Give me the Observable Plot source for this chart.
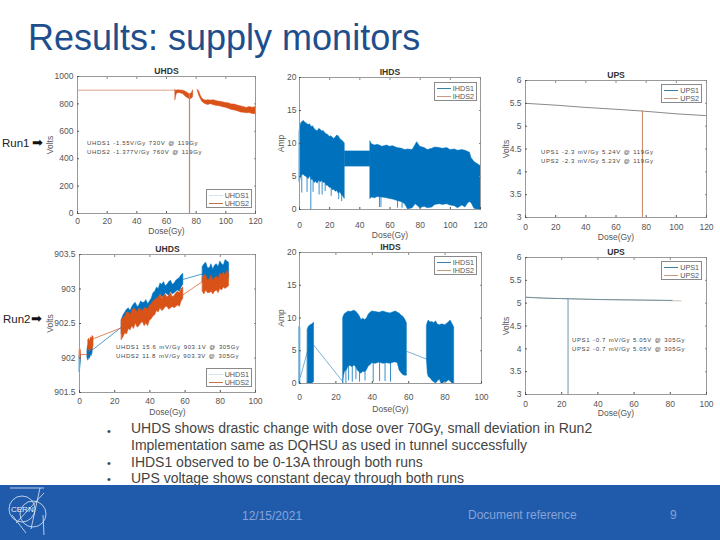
<!DOCTYPE html>
<html><head><meta charset="utf-8">
<script src="https://cdn.jsdelivr.net/npm/d3@7"></script>
<script src="https://cdn.jsdelivr.net/npm/@observablehq/plot@0.6"></script>
<style>
html,body{margin:0;padding:0;background:#fff}
#page{position:relative;width:720px;height:540px;overflow:hidden;font-family:"Liberation Sans",Arial,sans-serif}
.abs{position:absolute;white-space:nowrap}
.note{font-size:6px;letter-spacing:.62px;color:#444;line-height:9px;word-spacing:.6px}
.legend{position:absolute;background:#fff;border:1px solid #8a8a8a;box-sizing:border-box;font-size:7.2px;color:#555}
.legend div{position:absolute;left:2px;right:2px;height:9px;line-height:9px;text-align:right}
.legend i{position:absolute;left:0;top:4px;width:14px;height:1px}
.plot{position:absolute}
#footer{position:absolute;left:0;top:485px;width:720px;height:55px;background:#205bab}
.ftxt{color:#86a3d8;font-size:12px}
.bul{font-size:14px;color:#444}
</style></head>
<body><div id="page"></div>
<script>
// ---------- colours of the two series
const blue = "#0072bd", orange = "#d95319", tan = "#c49a84", grey = "#8a8a8a";

// ---------- Run 1 UHDS (Volts vs Dose)
const r1UhdsFlatDose = [0, 66];
const r1UhdsFlatV = [900, 900];
const r1UhdsDoseA = [66, 66.6, 67, 68, 69, 70, 71, 72, 73, 74, 75, 76, 77, 78];
const r1UhdsLowA = [828, 860, 872, 880, 878, 876, 872, 864, 852, 845, 838, 832, 838, 850];
const r1UhdsHighA = [900, 895, 898, 900, 898, 898, 896, 894, 888, 882, 874, 870, 878, 900];
const r1UhdsDoseB = [81, 82, 83, 84, 85, 86, 87, 88, 90, 92, 94, 96, 98, 100, 102, 104, 106, 108, 110, 112, 114, 116, 118, 120];
const r1UhdsLowB = [900, 862, 838, 818, 806, 800, 795, 792, 798, 790, 785, 783, 776, 772, 764, 756, 752, 746, 738, 736, 732, 733, 727, 725];
const r1UhdsHighB = [902, 892, 862, 842, 830, 826, 824, 826, 824, 826, 820, 816, 812, 806, 804, 796, 796, 788, 782, 778, 770, 778, 772, 776];
const r1UhdsDropDose = [75.5];
const r1UhdsDropTop = [870];

// ---------- Run 1 IHDS (Amp vs Dose)
const r1IhdsDoseA = [0, 0.5, 1, 2, 3, 4, 5, 6, 7, 8, 9, 10, 11, 12, 13, 14, 15, 16, 17, 18, 19, 20, 21, 22, 23, 24, 25, 26, 27, 28, 29, 30];
const r1IhdsHighA = [11.8, 12.4, 13.0, 13.3, 13.4, 13.1, 13.0, 12.8, 12.9, 12.5, 12.6, 12.2, 12.0, 11.8, 12.2, 12.1, 11.8, 11.9, 11.6, 11.4, 11.3, 11.0, 11.1, 10.9, 10.7, 10.9, 11.2, 11.1, 10.7, 10.5, 10.3, 10.0];
const r1IhdsLowA = [4.2, 4.4, 4.9, 5.3, 5.2, 5.0, 4.9, 4.6, 5.0, 4.5, 4.5, 4.0, 4.2, 3.9, 4.4, 4.1, 4.3, 4.0, 4.1, 3.6, 3.6, 3.3, 3.3, 2.9, 3.0, 2.7, 2.8, 2.4, 2.6, 2.2, 2.0, 1.6];
const r1IhdsDoseB = [30, 47];
const r1IhdsHighB = [8.8, 8.8];
const r1IhdsLowB = [6.5, 6.5];
const r1IhdsDoseC = [47, 48, 50, 52, 55, 58, 60, 62, 65, 68, 70, 72, 75, 77, 78, 80, 83, 85, 88, 90, 93, 95, 98, 100, 103, 105, 108, 110, 112, 113, 114, 116, 118, 120];
const r1IhdsHighC = [10.3, 9.9, 9.7, 9.8, 9.5, 9.7, 9.5, 9.6, 9.3, 9.2, 9.0, 9.1, 9.0, 9.8, 10.2, 9.5, 9.3, 9.0, 9.2, 9.4, 9.3, 9.2, 9.3, 9.0, 9.1, 8.9, 9.0, 8.9, 8.7, 8.6, 7.8, 7.2, 6.9, 6.6];
const r1IhdsLowC = [1.6, 1.8, 1.7, 1.9, 1.8, 1.7, 1.6, 1.5, 1.3, 1.1, 0.8, 0.0, 0.2, 0.8, 0.6, 0.2, 0.4, 0.2, 0.3, 0.7, 0.8, 0.7, 0.8, 0.6, 0.5, 0.2, 0.6, 0.3, 1.0, 1.1, 1.0, 0.1, 0.0, 0.0];
const r1IhdsSpikeDose = [1.5, 5, 7.5, 9, 13, 15, 17, 21, 26, 28, 53, 54, 65, 68];
const r1IhdsSpikeLow = [2.5, 2.6, 0, 2.6, 2.2, 2.2, 2.7, 2.0, 1.5, 1.2, 0.3, 0.3, 0.2, 0.2];

// ---------- Run 1 UPS (Volts vs Dose)
const r1UpsDose = [0, 20, 40, 60, 78, 100, 120];
const r1UpsV = [5.5, 5.46, 5.41, 5.37, 5.33, 5.27, 5.23];
const r1UpsDropDose = [77.5];
const r1UpsDropTop = [5.33];

// ---------- Run 2 UHDS (Volts vs Dose)
const r2UhdsDose1A = [0, 0.4, 0.8];
const r2UhdsLow1A = [901.8, 901.84, 901.95];
const r2UhdsHigh1A = [902.02, 902.08, 902.04];
const r2UhdsDose1B = [4.5, 5, 5.5, 6, 6.5, 7, 7.5];
const r2UhdsLow1B = [902.0, 901.96, 902.0, 901.99, 902.04, 902.03, 902.08];
const r2UhdsHigh1B = [902.12, 902.18, 902.16, 902.2, 902.18, 902.22, 902.2];
const r2UhdsDose1C = [24, 25, 26, 27, 28, 29, 30, 31, 32, 33, 34, 35, 36, 37, 38, 39, 40, 41, 42, 43, 44, 45, 46, 47, 48, 49, 50, 51, 52, 53, 54, 55, 56, 57, 58, 59];
const r2UhdsLow1C = [902.35, 902.4, 902.42, 902.48, 902.5, 902.54, 902.52, 902.55, 902.58, 902.54, 902.56, 902.6, 902.6, 902.56, 902.58, 902.6, 902.66, 902.7, 902.75, 902.76, 902.82, 902.86, 902.92, 902.88, 902.88, 902.94, 902.92, 902.9, 902.96, 902.92, 902.94, 902.96, 902.98, 902.96, 903.02, 903.06];
const r2UhdsHigh1C = [902.55, 902.62, 902.66, 902.7, 902.72, 902.68, 902.74, 902.78, 902.8, 902.74, 902.76, 902.82, 902.8, 902.8, 902.84, 902.78, 902.82, 902.86, 902.94, 902.96, 903.02, 903.0, 903.08, 903.06, 903.1, 903.04, 903.06, 903.1, 903.12, 903.06, 903.08, 903.12, 903.14, 903.16, 903.2, 903.22];
const r2UhdsDose1D = [70, 71, 72, 73, 74, 75, 76, 77, 78, 79, 80, 81, 82, 83, 84, 85];
const r2UhdsLow1D = [903.1, 903.06, 903.12, 903.06, 903.08, 903.12, 903.1, 903.08, 903.14, 903.12, 903.18, 903.14, 903.17, 903.18, 903.15, 903.16];
const r2UhdsHigh1D = [903.32, 903.36, 903.38, 903.3, 903.3, 903.36, 903.28, 903.34, 903.36, 903.32, 903.4, 903.36, 903.34, 903.42, 903.4, 903.38];
const r2UhdsLinkDose1 = [[7.5, 24], [59, 70]];
const r2UhdsLinkV1 = [[902.12, 902.45], [903.14, 903.22]];

const r2UhdsDose2A = [0, 0.4, 0.8];
const r2UhdsLow2A = [902.0, 901.96, 902.02];
const r2UhdsHigh2A = [902.1, 902.14, 902.1];
const r2UhdsDose2B = [5, 5.5, 6, 6.5, 7, 7.5, 8];
const r2UhdsLow2B = [902.1, 902.12, 902.08, 902.12, 902.14, 902.12, 902.18];
const r2UhdsHigh2B = [902.26, 902.28, 902.24, 902.3, 902.28, 902.32, 902.3];
const r2UhdsDose2C = [24, 25, 26, 27, 28, 29, 30, 31, 32, 33, 34, 35, 36, 37, 38, 39, 40, 41, 42, 43, 44, 45, 46, 47, 48, 49, 50, 51, 52, 53, 54, 55, 56, 57, 58, 59];
const r2UhdsLow2C = [902.26, 902.3, 902.36, 902.34, 902.42, 902.4, 902.46, 902.42, 902.5, 902.44, 902.46, 902.5, 902.52, 902.46, 902.5, 902.46, 902.54, 902.56, 902.6, 902.62, 902.68, 902.66, 902.72, 902.68, 902.7, 902.74, 902.74, 902.7, 902.72, 902.74, 902.72, 902.74, 902.76, 902.74, 902.82, 902.86];
const r2UhdsHigh2C = [902.55, 902.58, 902.6, 902.66, 902.66, 902.62, 902.68, 902.72, 902.7, 902.66, 902.72, 902.7, 902.68, 902.72, 902.72, 902.7, 902.76, 902.78, 902.82, 902.84, 902.86, 902.88, 902.92, 902.86, 902.9, 902.92, 902.88, 902.9, 902.94, 902.88, 902.9, 902.94, 902.96, 902.94, 903.0, 903.02];
const r2UhdsDose2D = [70, 71, 72, 73, 74, 75, 76, 77, 78, 79, 80, 81, 82, 83, 84, 85];
const r2UhdsLow2D = [902.96, 902.92, 902.98, 902.94, 902.94, 902.96, 902.92, 902.96, 902.98, 902.94, 903.0, 902.98, 903.02, 903.0, 903.02, 903.04];
const r2UhdsHigh2D = [903.16, 903.2, 903.2, 903.12, 903.14, 903.2, 903.12, 903.16, 903.18, 903.14, 903.22, 903.2, 903.24, 903.2, 903.26, 903.22];
const r2UhdsLinkDose2 = [[0.8, 5], [8, 24], [59, 70]];
const r2UhdsLinkV2 = [[902.05, 902.05], [902.28, 902.44], [902.92, 903.11]];

// ---------- Run 2 IHDS (Amp vs Dose)
const r2IhdsDoseA = [0, 0.5];
const r2IhdsHighA = [8.6, 8.5];
const r2IhdsLowA = [0, 0];
const r2IhdsDoseB = [4.5, 5, 6, 7, 8];
const r2IhdsHighB = [8.2, 8.6, 8.9, 9.0, 9.3];
const r2IhdsLowB = [0, 0, 0, 0, 0.2];
const r2IhdsDoseC = [24, 24.5, 25, 26, 27, 28, 29, 30, 31, 32, 33, 34, 35, 36, 37, 38, 39, 40, 42, 44, 46, 48, 50, 52, 53, 54, 55, 56, 57, 58, 59];
const r2IhdsHighC = [10.0, 10.4, 10.6, 10.8, 11.0, 10.9, 11.0, 11.1, 11.0, 10.7, 10.3, 9.7, 9.9, 9.7, 9.9, 10.5, 10.8, 11.0, 10.9, 10.8, 11.0, 10.8, 10.7, 10.9, 11.0, 10.8, 10.7, 10.4, 10.2, 9.8, 9.2];
const r2IhdsLowC = [0.0, 1.2, 1.8, 2.0, 2.6, 2.7, 2.5, 2.7, 2.6, 2.0, 1.7, 1.5, 1.8, 1.7, 2.0, 2.6, 2.8, 3.1, 3.0, 3.2, 3.0, 3.1, 3.0, 3.2, 3.2, 3.1, 2.0, 1.6, 1.3, 1.2, 1.2];
const r2IhdsDoseD = [70, 70.5, 71, 72, 73, 74, 75, 76, 77, 78, 79, 80, 81, 82, 83, 84, 85];
const r2IhdsHighD = [8.8, 9.3, 9.6, 9.3, 9.4, 9.2, 9.5, 9.0, 8.9, 9.0, 9.0, 8.9, 9.1, 9.3, 9.6, 9.1, 8.6];
const r2IhdsLowD = [3.7, 1.5, 1.0, 0.8, 0.4, 0.2, 0.0, 0.3, 0.6, 0.0, 0.0, 0.3, 0.2, 0.5, 0.3, 0.0, 0.0];
const r2IhdsSpikeDose = [25.5, 27, 29, 31, 33, 36, 40.5, 44, 47, 50];
const r2IhdsSpikeLow = [0, 0.4, 0.2, 0.6, 0.2, 0.4, 0.2, 0.3, 0.3, 0.2];
const r2IhdsLinkDose = [[0.5, 4.5], [8, 24], [59, 70]];
const r2IhdsLinkA = [[1.0, 5.0], [5.8, 0.2], [4.9, 3.7]];

// ---------- Run 2 UPS (Volts vs Dose)
const r2UpsDose1 = [0, 5, 10, 20, 40, 60, 81];
const r2UpsV1 = [5.13, 5.12, 5.11, 5.10, 5.08, 5.07, 5.06];
const r2UpsDose2 = [0, 5, 10, 20, 40, 60, 86];
const r2UpsV2 = [5.13, 5.12, 5.11, 5.10, 5.08, 5.07, 5.05];
const r2UpsDropDose = [23.5];
const r2UpsDropTop = [5.1];

// ---------- scale ticks and axis settings
const doseTicks120 = [0, 20, 40, 60, 80, 100, 120];
const doseTicks100 = [0, 20, 40, 60, 80, 100];
const uhdsTicks1 = [0, 200, 400, 600, 800, 1000];
const uhdsTicks2 = [901.5, 902, 902.5, 903, 903.5];
const ihdsTicks = [0, 5, 10, 15, 20];
const upsTicks = [3, 3.5, 4, 4.5, 5, 5.5, 6];

// ---------- text
const slideTitle = "Results: supply monitors";
const bulletLines = [
  "UHDS shows drastic change with dose over 70Gy, small deviation in Run2",
  "Implementation same as DQHSU as used in tunnel successfully",
  "IHDS1 observed to be 0-13A through both runs",
  "UPS voltage shows constant decay through both runs"
];
const footerDate = "12/15/2021", footerRef = "Document reference", footerPage = "9";

// ---------- mark helpers
function band(xs, lo, hi, color) {
  const t = xs.map((x, i) => ({x, lo: lo[i], hi: hi[i]}));
  return Plot.areaY(t, {x: "x", y1: "lo", y2: "hi", fill: color, stroke: color, strokeWidth: 0.5});
}
function line(xs, ys, color, w = 1) {
  const t = xs.map((x, i) => ({x, y: ys[i]}));
  return Plot.line(t, {x: "x", y: "y", stroke: color, strokeWidth: w});
}
function links(xss, yss, color) {
  return xss.map((xs, i) => line(xs, yss[i], color, 0.7));
}
function spikes(xs, low, top, color, w = 1) {
  const t = xs.map((x, i) => ({x, lo: low[i], hi: top[i]}));
  return Plot.ruleX(t, {x: "x", y1: "lo", y2: "hi", stroke: color, strokeWidth: w});
}

const page = document.getElementById("page");
function chart(o) {
  const mL = 42, mR = 8, mT = 18, mB = 34;
  const w = o.r - o.l + mL + mR, h = o.b - o.t + mT + mB;
  const svg = Plot.plot({
    width: w, height: h, marginLeft: mL, marginRight: mR, marginTop: mT, marginBottom: mB,
    style: {background: "transparent", fontFamily: "Liberation Sans, Arial, sans-serif", color: "#555", overflow: "visible"},
    x: {domain: o.xd},
    y: {domain: o.yd},
    marks: [
      ...o.marks,
      Plot.frame({stroke: "#9a9a9a", strokeWidth: 1}),
      Plot.axisX({ticks: o.xt, anchor: "bottom", tickSize: -2, tickPadding: o.xPad, fontSize: 8.5, color: "#555", tickFormat: String,
        label: "Dose(Gy)", labelAnchor: "center", labelArrow: "none", labelOffset: o.xLab}),
      Plot.axisY({ticks: o.yt, anchor: "left", tickSize: -2, tickPadding: o.yPad, fontSize: 8.5, color: "#555", tickFormat: String,
        label: o.yl, labelAnchor: "center", labelArrow: "none", labelOffset: o.yLab}),
      Plot.axisX({ticks: o.xt, anchor: "top", tickSize: -2, tickFormat: () => "", label: null, color: "#888"}),
      Plot.axisY({ticks: o.yt, anchor: "right", tickSize: -2, tickFormat: () => "", label: null, color: "#888"}),
      Plot.text([o.title], {frameAnchor: "top", dy: -9, fontWeight: "bold", fontSize: 8.6, fill: "#333"})
    ]
  });
  svg.classList.add("plot");
  svg.style.left = (o.l - mL) + "px";
  svg.style.top = (o.t - mT) + "px";
  page.appendChild(svg);
}
function legend(l, t, r, b, name1, c1, name2, c2) {
  const d = document.createElement("div");
  d.className = "legend";
  d.style.cssText = `left:${l}px;top:${t}px;width:${r - l}px;height:${b - t}px`;
  d.innerHTML = `<div style="top:1px"><i style="background:${c1}"></i>${name1}</div>` +
                `<div style="top:9px"><i style="background:${c2}"></i>${name2}</div>`;
  page.appendChild(d);
}
function note(x, y, lines) {
  const d = document.createElement("div");
  d.className = "abs note";
  d.style.left = x + "px"; d.style.top = y + "px";
  d.innerHTML = lines.join("<br>");
  page.appendChild(d);
}
function label(x, y, s, cls, extra = "") {
  const d = document.createElement("div");
  d.className = "abs " + cls;
  d.style.cssText = `left:${x}px;top:${y}px;${extra}`;
  d.textContent = s;
  page.appendChild(d);
}

// ---------- six panels
chart({l: 77, t: 76, r: 255, b: 213, xd: [0, 120], yd: [0, 1000], xt: doseTicks120, yt: uhdsTicks1, yl: "Volts", title: "UHDS", xPad: 6, yPad: 6, xLab: 20, yLab: 31,
  marks: [
    line(r1UhdsFlatDose, r1UhdsFlatV, "#d9a58c", 1),
    band(r1UhdsDoseA, r1UhdsLowA, r1UhdsHighA, orange),
    band(r1UhdsDoseB, r1UhdsLowB, r1UhdsHighB, orange),
    spikes(r1UhdsDropDose, [0], r1UhdsDropTop, "#b98a72", 1.2)
  ]});
chart({l: 299, t: 77, r: 480, b: 209, xd: [0, 120], yd: [0, 20], xt: doseTicks120, yt: ihdsTicks, yl: "Amp", title: "IHDS", xPad: 14, yPad: 5, xLab: 28, yLab: 22,
  marks: [
    band(r1IhdsDoseA, r1IhdsLowA, r1IhdsHighA, blue),
    band(r1IhdsDoseB, r1IhdsLowB, r1IhdsHighB, blue),
    band(r1IhdsDoseC, r1IhdsLowC, r1IhdsHighC, blue),
    spikes(r1IhdsSpikeDose, r1IhdsSpikeLow, r1IhdsSpikeLow.map(() => 7), blue, 0.8),
    line([0, 120], [0, 0], tan, 1.2)
  ]});
chart({l: 525, t: 80, r: 706, b: 217, xd: [0, 120], yd: [3, 6], xt: doseTicks120, yt: upsTicks, yl: "Volts", title: "UPS", xPad: 8, yPad: 6, xLab: 22, yLab: 23,
  marks: [
    line(r1UpsDose, r1UpsV, grey, 1),
    spikes(r1UpsDropDose, [3], r1UpsDropTop, "#c8815c", 1)
  ]});
chart({l: 79, t: 254, r: 255, b: 392, xd: [0, 100], yd: [901.5, 903.5], xt: doseTicks100, yt: uhdsTicks2, yl: "Volts", title: "UHDS", xPad: 7, yPad: 6, xLab: 22, yLab: 33,
  marks: [
    ...links(r2UhdsLinkDose1, r2UhdsLinkV1, blue),
    band(r2UhdsDose1A, r2UhdsLow1A, r2UhdsHigh1A, blue),
    band(r2UhdsDose1B, r2UhdsLow1B, r2UhdsHigh1B, blue),
    band(r2UhdsDose1C, r2UhdsLow1C, r2UhdsHigh1C, blue),
    band(r2UhdsDose1D, r2UhdsLow1D, r2UhdsHigh1D, blue),
    ...links(r2UhdsLinkDose2, r2UhdsLinkV2, orange),
    band(r2UhdsDose2A, r2UhdsLow2A, r2UhdsHigh2A, orange),
    band(r2UhdsDose2B, r2UhdsLow2B, r2UhdsHigh2B, orange),
    band(r2UhdsDose2C, r2UhdsLow2C, r2UhdsHigh2C, orange),
    band(r2UhdsDose2D, r2UhdsLow2D, r2UhdsHigh2D, orange)
  ]});
chart({l: 299, t: 252, r: 481, b: 383, xd: [0, 100], yd: [0, 20], xt: doseTicks100, yt: ihdsTicks, yl: "Amp", title: "IHDS", xPad: 12, yPad: 5, xLab: 28, yLab: 22,
  marks: [
    ...links(r2IhdsLinkDose, r2IhdsLinkA, "#3f8fc4"),
    band(r2IhdsDoseA, r2IhdsLowA, r2IhdsHighA, blue),
    band(r2IhdsDoseB, r2IhdsLowB, r2IhdsHighB, blue),
    band(r2IhdsDoseC, r2IhdsLowC, r2IhdsHighC, blue),
    band(r2IhdsDoseD, r2IhdsLowD, r2IhdsHighD, blue),
    spikes(r2IhdsSpikeDose, r2IhdsSpikeLow, r2IhdsSpikeLow.map(() => 5), blue, 0.8),
    line([0, 85], [0, 0], tan, 1.2)
  ]});
chart({l: 525, t: 257, r: 706, b: 394, xd: [0, 100], yd: [3, 6], xt: doseTicks100, yt: upsTicks, yl: "Volts", title: "UPS", xPad: 8, yPad: 6, xLab: 21, yLab: 23,
  marks: [
    line(r2UpsDose2, r2UpsV2, "#d8c4b8", 1),
    line(r2UpsDose1, r2UpsV1, "#6f8f9f", 1),
    spikes(r2UpsDropDose, [3], r2UpsDropTop, "#6f98a8", 1)
  ]});

// ---------- legends
legend(206, 189, 252, 208, "UHDS1", "#cfe6f2", "UHDS2", "#c4704a");
legend(434, 82, 477, 101, "IHDS1", "#3a7ea8", "IHDS2", "#c99a80");
legend(661, 84, 702, 103, "UPS1", "#3a7ea8", "UPS2", "#c99a80");
legend(206, 368, 252, 387, "UHDS1", "#cfe6f2", "UHDS2", "#c4704a");
legend(434, 256, 477, 275, "IHDS1", "#3a7ea8", "IHDS2", "#c99a80");
legend(661, 261, 702, 280, "UPS1", "#3a7ea8", "UPS2", "#c99a80");

// ---------- annotations inside the panels
note(87, 139, ["UHDS1 -1.55V/Gy 730V @ 119Gy", "UHDS2 -1.377V/Gy 760V @ 119Gy"]);
note(541, 148, ["UPS1 -2.3 mV/Gy 5.24V @ 119Gy", "UPS2 -2.3 mV/Gy 5.23V @ 119Gy"]);
note(116, 343, ["UHDS1 15.6 mV/Gy 903.1V @ 305Gy", "UHDS2 11.8 mV/Gy 903.3V @ 305Gy"]);
note(572, 336, ["UPS1 -0.7 mV/Gy 5.05V @ 305Gy", "UPS2 -0.7 mV/Gy 5.05V @ 305Gy"]);

// ---------- slide text
label(28, 17, slideTitle, "", "font-size:36px;color:#1f4e8c;line-height:42px");
label(2, 137, "Run1", "", "font-size:11.5px;color:#222");
label(32, 135, "➡", "", "font-size:13px;color:#111;font-family:'DejaVu Sans'");
label(3, 313, "Run2", "", "font-size:11.5px;color:#222");
label(31, 311, "➡", "", "font-size:13px;color:#111;font-family:'DejaVu Sans'");

[420, 437, 454, 470].forEach((y, i) => label(131, y, bulletLines[i], "bul"));
[422, 454, 470].forEach(y => label(107, y, "•", "bul", "font-size:11px;line-height:18px"));

// ---------- footer band
const foot = document.createElement("div");
foot.id = "footer";
foot.innerHTML = `<svg width="50" height="55" style="position:absolute;left:6px;top:0" fill="none" stroke="#dfe8f5" stroke-width="0.8">
<circle cx="16" cy="24" r="13"/><circle cx="27" cy="29" r="13"/><path d="M4 3H38M34 3L25 44M10 38L38 8M6 30L20 48M37 30L38 50"/>
<text x="5" y="27" font-size="8" fill="#e6edf8" stroke="none" font-family="Liberation Sans">CERN</text></svg>`;
page.appendChild(foot);
label(242, 509, footerDate, "ftxt");
label(468, 508, footerRef, "ftxt");
label(670, 508, footerPage, "ftxt");
</script></body></html>
